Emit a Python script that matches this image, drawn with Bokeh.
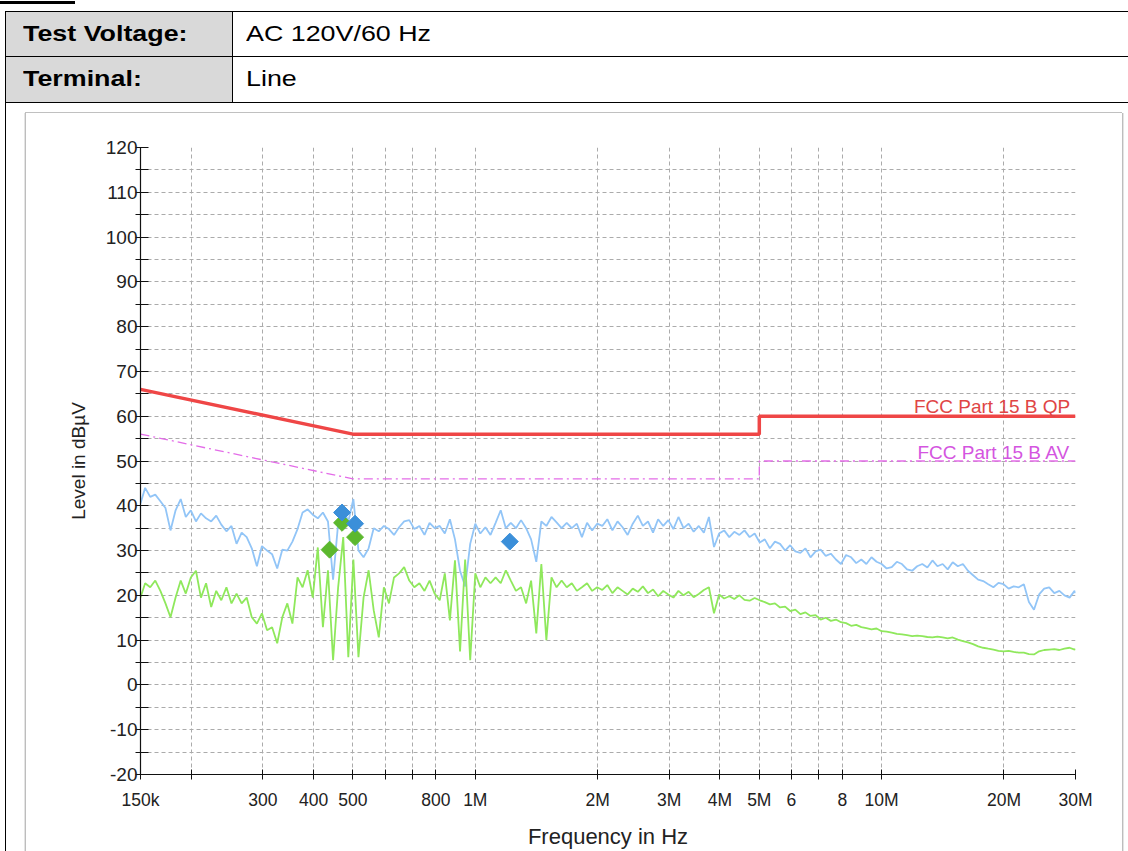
from bokeh.plotting import figure
from bokeh.models import Range1d, FixedTicker, Label, Div, ColumnDataSource
from bokeh.layouts import column, row
from bokeh.embed import file_html
from bokeh.resources import INLINE

# ---------------- data ----------------
FREQ_MHZ = [
    0.150, 0.154, 0.1585, 0.1631, 0.1679, 0.1728, 0.1778, 0.1830, 0.1884, 0.1939,
    0.1995, 0.2054, 0.2113, 0.2175, 0.2239, 0.2304, 0.2371, 0.2441, 0.2512, 0.2585,
    0.2661, 0.2738, 0.2818, 0.2901, 0.2985, 0.3073, 0.3162, 0.3255, 0.3350, 0.3447,
    0.3548, 0.3652, 0.3758, 0.3868, 0.3981, 0.4097, 0.4217, 0.4340, 0.4467, 0.4597,
    0.4732, 0.4870, 0.5012, 0.5158, 0.5309, 0.5464, 0.5623, 0.5788, 0.5957, 0.6131,
    0.6310, 0.6494, 0.6683, 0.6879, 0.7079, 0.7286, 0.7499, 0.7718, 0.7943, 0.8175,
    0.8414, 0.8660, 0.8913, 0.9173, 0.9441, 0.9716,
    1.000, 1.029, 1.059, 1.090, 1.122, 1.155, 1.189, 1.223, 1.259, 1.296,
    1.334, 1.372, 1.413, 1.454, 1.496, 1.540, 1.585, 1.631, 1.679, 1.728,
    1.778, 1.830, 1.884, 1.939, 1.995, 2.054, 2.113, 2.175, 2.239, 2.304,
    2.371, 2.441, 2.512, 2.585, 2.661, 2.738, 2.818, 2.901, 2.985, 3.073,
    3.162, 3.255, 3.350, 3.447, 3.548, 3.652, 3.758, 3.868, 3.981, 4.097,
    4.217, 4.340, 4.467, 4.597, 4.732, 4.870, 5.012, 5.158, 5.309, 5.464,
    5.623, 5.788, 5.957, 6.131, 6.310, 6.494, 6.683, 6.879, 7.079, 7.286,
    7.499, 7.718, 7.943, 8.175, 8.414, 8.660, 8.913, 9.173, 9.441, 9.716,
    10.00, 10.29, 10.59, 10.90, 11.22, 11.55, 11.89, 12.23, 12.59, 12.96,
    13.34, 13.72, 14.13, 14.54, 14.96, 15.40, 15.85, 16.31, 16.79, 17.28,
    17.78, 18.30, 18.84, 19.39, 19.95, 20.54, 21.13, 21.75, 22.39, 23.04,
    23.71, 24.41, 25.12, 25.85, 26.61, 27.38, 28.18, 29.01, 29.85, 30.00,
]

PEAK_DBUV = [
    40.5, 44.0, 42.0, 42.5, 41.0, 39.5, 34.5, 39.0, 41.5, 37.5,
    39.0, 36.5, 38.3, 37.2, 36.5, 37.8, 35.8, 34.3, 35.5, 31.5,
    34.0, 33.0, 30.5, 26.5, 31.0, 30.0, 29.2, 26.0, 30.2, 30.0,
    32.0, 34.8, 38.5, 39.2, 38.0, 37.2, 38.5, 36.5, 23.5, 36.0,
    39.2, 36.5, 41.5, 30.0, 28.5, 30.5, 35.0, 34.3, 35.5, 34.8,
    33.5, 35.2, 36.5, 36.8, 34.8, 35.5, 33.5, 36.2, 35.0, 35.5,
    33.8, 37.0, 32.5, 25.5, 22.0, 31.5, 36.0, 33.8, 35.2, 33.5,
    36.2, 39.0, 35.0, 36.2, 35.0, 36.8, 35.0, 32.5, 27.5, 36.5,
    35.5, 37.5, 36.3, 35.0, 36.2, 35.0, 36.0, 33.0, 36.2, 34.5,
    36.0, 35.5, 37.0, 34.5, 36.5, 35.2, 33.5, 36.0, 37.8, 35.5,
    36.5, 34.0, 37.0, 35.5, 36.8, 34.8, 37.5, 35.0, 36.0, 34.2,
    35.5, 34.0, 37.5, 30.8, 33.8, 34.5, 33.0, 34.2, 33.5, 34.5,
    33.0, 33.8, 31.8, 32.5, 30.5, 32.0, 31.5, 30.0, 31.2, 29.8,
    29.5, 30.5, 28.5, 29.8, 30.2, 28.8, 29.3, 28.0, 27.0, 29.0,
    28.5, 27.2, 28.0, 27.0, 28.5, 27.5, 27.0, 26.0, 26.3, 27.5,
    27.0, 25.8, 25.5, 26.5, 27.0, 26.2, 27.8, 26.5, 27.0, 25.8,
    27.4, 26.5, 27.0, 25.5, 24.5, 23.5, 23.2, 22.5, 21.8, 22.8,
    22.5, 21.5, 22.0, 21.8, 22.5, 18.5, 16.8, 20.2, 21.5, 21.8,
    20.5, 21.0, 20.0, 19.5, 21.0, 20.5,
]

AVG_DBUV = [
    19.5, 22.7, 21.8, 23.3, 21.0, 18.2, 15.1, 19.5, 23.3, 20.4,
    24.0, 25.5, 19.5, 22.7, 17.4, 21.0, 18.9, 21.8, 18.2, 20.4,
    18.2, 19.5, 15.1, 13.7, 16.0, 12.2, 12.9, 9.3, 15.1, 18.2,
    13.7, 24.0, 21.8, 25.6, 19.5, 30.7, 12.9, 25.6, 5.5, 21.8,
    33.0, 6.2, 28.0, 6.2, 19.5, 25.6, 16.7, 10.6, 21.8, 18.2,
    24.0, 24.9, 26.3, 23.3, 21.8, 22.7, 21.0, 23.3, 20.4, 18.9,
    24.9, 14.4, 27.8, 7.5, 28.0, 5.5, 24.9, 21.8, 24.0, 22.7,
    24.0, 22.7, 25.6, 23.3, 21.0, 21.8, 18.2, 23.3, 11.5, 27.0,
    10.0, 24.0, 21.8, 23.3, 21.8, 22.7, 21.0, 21.8, 22.7, 21.0,
    21.8, 21.2, 22.3, 20.5, 21.8, 21.0, 20.2, 21.5, 20.8, 22.0,
    20.5, 21.3, 19.8, 21.0, 20.2, 19.5, 21.0, 20.0, 20.8, 19.6,
    20.3, 21.2, 21.8, 16.0, 20.2, 19.3, 19.8, 19.2, 20.0, 19.0,
    18.8, 19.4, 18.9, 18.5, 18.0, 18.2, 17.3, 17.5, 16.5, 16.8,
    15.8, 16.2, 15.4, 15.6, 14.6, 15.0, 14.3, 14.6, 14.0, 13.8,
    13.2, 13.4, 12.9, 12.7, 12.4, 12.6, 12.0, 11.9, 11.7, 11.4,
    11.3, 11.1, 10.9, 11.0, 10.9, 10.7, 10.6, 10.8, 10.6, 10.4,
    10.6, 10.1, 9.8, 9.5, 9.1, 8.6, 8.3, 8.1, 7.9, 7.6,
    7.5, 7.6, 7.4, 7.2, 7.2, 6.9, 6.8, 7.5, 7.8, 7.9,
    8.0, 7.8, 8.1, 8.3, 7.9, 8.0,
]

LIMIT_MHZ = [0.15, 0.5, 5.0, 5.0, 30.0]
QP_LIMIT_DB = [66, 56, 56, 60, 60]
AV_LIMIT_DB = [56, 46, 46, 50, 50]
QP_LABEL = "FCC Part 15 B  QP"
AV_LABEL = "FCC Part 15 B  AV"

QP_FINAL_MHZ = [0.470, 0.506, 1.216]
QP_FINAL_DB = [38.5, 36.0, 32.0]
AV_FINAL_MHZ = [0.438, 0.470, 0.506]
AV_FINAL_DB = [30.2, 36.2, 33.0]

X_TICKS = [150000, 200000, 300000, 400000, 500000, 600000, 700000, 800000,
           1000000, 2000000, 3000000, 4000000, 5000000, 6000000, 7000000,
           8000000, 10000000, 20000000, 30000000]
X_TICK_LABELS = ["150k", "", "300", "400", "500", "", "", "800", "1M", "2M",
                 "3M", "4M", "5M", "6", "", "8", "10M", "20M", "30M"]
Y_TICKS = [-20, -10, 0, 10, 20, 30, 40, 50, 60, 70, 80, 90, 100, 110, 120]
Y_TICK_LABELS = ["-20", "-10", "0", "10", "20", "30", "40", "50", "60", "70",
                 "80", "90", "100", "110", "120"]
Y_MINOR = [-15, -5, 5, 15, 25, 35, 45, 55, 65, 75, 85, 95, 105, 115]

TEST_VOLTAGE = "AC 120V/60 Hz"
TERMINAL = "Line"

# ---------------- chart ----------------
FONT = "Liberation Sans"
GRID = "#ababab"

def hz(v):
    return [f * 1e6 for f in v]

p = figure(width=1096, height=738, x_axis_type="log",
           x_range=Range1d(150e3, 30e6), y_range=Range1d(-20, 120),
           output_backend="svg", toolbar_location=None,
           min_border_left=114, min_border_right=47,
           min_border_top=34, min_border_bottom=77,
           background_fill_color="white", border_fill_color="white",
           outline_line_color=None)

for ax in (p.xaxis[0], p.yaxis[0]):
    ax.axis_line_color = "#111111"
    ax.axis_line_width = 1.2
    ax.major_tick_line_color = "#111111"
    ax.minor_tick_line_color = "#111111"
    ax.major_label_text_font = FONT
    ax.major_label_text_color = "#222222"
    ax.axis_label_text_font = FONT
    ax.axis_label_text_font_style = "normal"
    ax.axis_label_text_color = "#222222"

xa = p.xaxis[0]
xa.ticker = FixedTicker(ticks=X_TICKS)
xa.major_label_overrides = dict(zip(X_TICKS, X_TICK_LABELS))
xa.major_tick_in = 5
xa.major_tick_out = 5
xa.minor_tick_line_color = None
xa.major_label_text_font_size = "17.5px"
xa.major_label_standoff = 10
xa.axis_label = "Frequency in Hz"
xa.axis_label_text_font_size = "22px"
xa.axis_label_standoff = 11

ya = p.yaxis[0]
ya.ticker = FixedTicker(ticks=Y_TICKS, minor_ticks=Y_MINOR)
ya.major_label_overrides = dict(zip(Y_TICKS, Y_TICK_LABELS))
ya.major_tick_in = 8
ya.major_tick_out = 5
ya.minor_tick_in = 8
ya.minor_tick_out = 5
ya.major_label_text_font_size = "19px"
ya.major_label_standoff = -2
ya.axis_label = "Level in dBµV"
ya.axis_label_text_font_size = "19px"
ya.axis_label_standoff = 14

p.xgrid.grid_line_color = GRID
p.xgrid.grid_line_dash = "4 3"
p.ygrid.grid_line_color = GRID
p.ygrid.grid_line_dash = "4 3"
p.ygrid.minor_grid_line_color = GRID
p.ygrid.minor_grid_line_dash = "4 3"

trace = ColumnDataSource(dict(f=hz(FREQ_MHZ), pk=PEAK_DBUV, av=AVG_DBUV))
lim = ColumnDataSource(dict(f=hz(LIMIT_MHZ), qp=QP_LIMIT_DB, av=AV_LIMIT_DB))

p.line("f", "pk", source=trace, line_color="#92c5f7", line_width=1.8)
p.line("f", "av", source=trace, line_color="#8fe85c", line_width=1.8)
p.line("f", "qp", source=lim, line_color="#ef4646", line_width=3.5)
p.line("f", "av", source=lim, line_color="#e36ce8", line_width=1.3,
       line_dash="9 4 2 4")

p.scatter(hz(AV_FINAL_MHZ), AV_FINAL_DB, marker="square", angle=0.7854,
          size=12, fill_color="#5cb82e", line_color="#5cb82e")
p.scatter(hz(QP_FINAL_MHZ), QP_FINAL_DB, marker="square", angle=0.7854,
          size=12, fill_color="#3b8fd9", line_color="#3b8fd9")

p.add_layout(Label(x=LIMIT_MHZ[-1] * 1e6, y=QP_LIMIT_DB[-1], text=QP_LABEL,
                   text_align="right", text_baseline="bottom", x_offset=0,
                   y_offset=-1,
                   text_font=FONT, text_font_size="19px", text_color="#e04545"))
p.add_layout(Label(x=LIMIT_MHZ[-1] * 1e6, y=AV_LIMIT_DB[-1], text=AV_LABEL,
                   text_align="right", text_baseline="bottom", x_offset=0,
                   y_offset=-2,
                   text_font=FONT, text_font_size="19px", text_color="#d455e0"))

# ---------------- report table and frame ----------------
def box(l, t, w, h, c):
    return (f'<div style="position:absolute;left:{l}px;top:{t}px;width:{w}px;'
            f'height:{h}px;background:{c};"></div>')

def txt(l, t, s, bold):
    fw = "bold" if bold else "normal"
    return (f'<div style="position:absolute;left:{l}px;top:{t}px;font-size:22px;'
            f'line-height:22px;font-weight:{fw};white-space:nowrap;'
            f'transform:scaleX(1.22);transform-origin:0 0;">{s}</div>')

table_html = (
    f'<div style="position:relative;width:1128px;height:113px;overflow:hidden;'
    f'background:#fff;color:#000;font-family:\'{FONT}\',Arial,sans-serif;">'
    + box(0, 1, 75, 3, "#000")
    + box(5, 12, 227, 91, "#d9d9d9")
    + box(5, 11, 1123, 1, "#000")
    + box(5, 56, 1123, 1, "#000")
    + box(5, 102, 1123, 1, "#000")
    + box(5, 11, 1, 102, "#000")
    + box(232, 11, 1, 92, "#000")
    + box(25, 112, 1097, 1, "#c0c0c0")
    + txt(23, 23, "Test Voltage:", True)
    + txt(246, 23, TEST_VOLTAGE, False)
    + txt(23, 68, "Terminal:", True)
    + txt(246, 68, TERMINAL, False)
    + '</div>'
)
left_html = ('<div style="position:relative;width:26px;height:738px;background:#fff;">'
             + box(5, 0, 1, 738, "#000") + box(24, 0, 1, 738, "#e4e4e4")
             + box(25, 0, 1, 738, "#bdbdbd") + '</div>')
right_html = ('<div style="position:relative;width:6px;height:738px;background:#fff;">'
              + box(0, 0, 1, 738, "#bdbdbd") + box(1, 0, 1, 738, "#e4e4e4") + '</div>')

top = Div(text=table_html, width=1128, height=113, margin=0)
left = Div(text=left_html, width=26, height=738, margin=0)
right = Div(text=right_html, width=6, height=738, margin=0)

page = column(top, row(left, p, right, spacing=0, margin=0),
              spacing=0, margin=0)

open("out.html", "w").write(file_html(page, INLINE))
